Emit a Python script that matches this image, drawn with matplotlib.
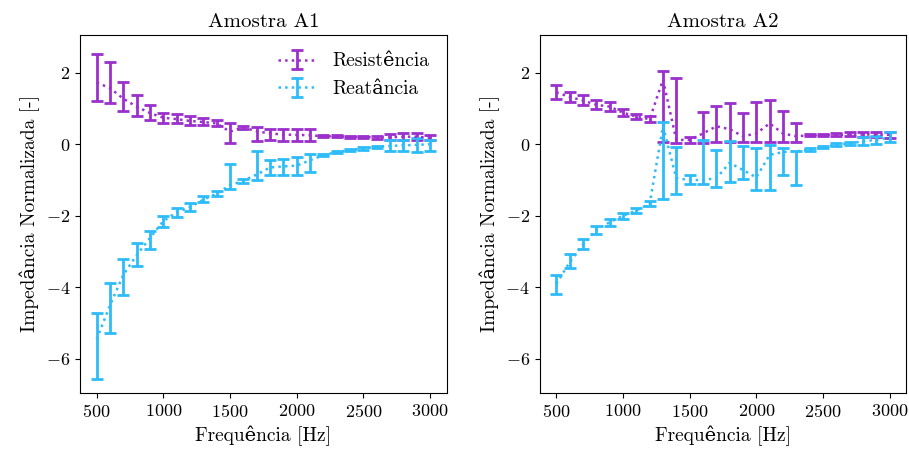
import matplotlib
matplotlib.use('Agg')
import matplotlib.pyplot as plt
import numpy as np

#-------------------------------------------
#              Dados
#-------------------------------------------
freq = np.array([500, 600, 700, 800, 900, 1000, 1100, 1200, 1300, 1400, 1500, 1600, 1700,
                 1800, 1900, 2000, 2100, 2200, 2300, 2400, 2500, 2600, 2700, 2800, 2900, 3000])

# Amostra A1 - resistencia
a1_res = np.array([1.72, 1.57, 1.27, 1.05, 0.87, 0.74, 0.70, 0.65, 0.62, 0.58, 0.35, 0.47, 0.36,
                   0.30, 0.27, 0.26, 0.25, 0.22, 0.22, 0.21, 0.20, 0.19, 0.19, 0.21, 0.21, 0.18])
a1_res_min = np.array([1.20, 1.16, 0.93, 0.79, 0.67, 0.60, 0.60, 0.55, 0.53, 0.50, 0.02, 0.42, 0.10,
                       0.13, 0.08, 0.08, 0.08, 0.19, 0.19, 0.18, 0.17, 0.15, 0.11, 0.11, 0.11, 0.11])
a1_res_max = np.array([2.52, 2.30, 1.74, 1.37, 1.09, 0.88, 0.84, 0.78, 0.72, 0.68, 0.58, 0.52, 0.48,
                       0.42, 0.43, 0.43, 0.42, 0.25, 0.25, 0.24, 0.23, 0.23, 0.28, 0.32, 0.32, 0.26])

# Amostra A1 - reatancia
a1_rea = np.array([-5.45, -4.50, -3.65, -3.10, -2.62, -2.15, -1.90, -1.76, -1.55, -1.38, -1.15, -1.02, -0.85,
                   -0.65, -0.62, -0.60, -0.45, -0.31, -0.22, -0.17, -0.12, -0.07, -0.05, -0.03, -0.02, 0.00])
a1_rea_min = np.array([-6.57, -5.27, -4.20, -3.40, -2.92, -2.30, -2.03, -1.86, -1.62, -1.44, -1.24, -1.08, -0.99,
                       -0.87, -0.85, -0.87, -0.78, -0.34, -0.25, -0.20, -0.15, -0.10, -0.20, -0.20, -0.21, -0.18])
a1_rea_max = np.array([-4.71, -3.87, -3.22, -2.75, -2.42, -2.00, -1.77, -1.63, -1.45, -1.31, -0.54, -0.96, -0.20,
                       -0.45, -0.42, -0.37, -0.27, -0.28, -0.19, -0.14, -0.09, -0.04, 0.11, 0.12, 0.16, 0.12])

# Amostra A2 - resistencia
a2_res = np.array([1.45, 1.32, 1.22, 1.10, 1.05, 0.88, 0.77, 0.70, 1.80, 0.12, 0.12, 0.30, 0.50,
                   0.42, 0.22, 0.30, 0.58, 0.30, 0.22, 0.25, 0.25, 0.26, 0.27, 0.27, 0.27, 0.26])
a2_res_min = np.array([1.26, 1.17, 1.09, 0.98, 0.92, 0.78, 0.70, 0.62, 0.06, 0.04, 0.04, 0.04, 0.05,
                       0.05, 0.05, 0.05, 0.05, 0.05, 0.05, 0.22, 0.22, 0.22, 0.22, 0.20, 0.20, 0.17])
a2_res_max = np.array([1.65, 1.46, 1.37, 1.23, 1.17, 0.98, 0.84, 0.78, 2.05, 1.85, 0.20, 0.90, 1.07,
                       1.14, 0.86, 1.17, 1.23, 0.93, 0.58, 0.28, 0.28, 0.30, 0.33, 0.34, 0.34, 0.34])

# Amostra A2 - reatancia
a2_rea = np.array([-3.90, -3.30, -2.80, -2.40, -2.18, -2.00, -1.85, -1.66, 0.50, -0.95, -1.00, -1.00, -0.95,
                   -0.52, -0.72, -0.93, -0.30, -0.22, -0.20, -0.15, -0.09, -0.01, 0.02, 0.08, 0.12, 0.18])
a2_rea_min = np.array([-4.18, -3.45, -2.94, -2.52, -2.29, -2.08, -1.92, -1.73, -1.54, -1.38, -1.10, -1.10, -1.19,
                       -1.05, -0.96, -1.27, -1.27, -0.87, -1.15, -0.18, -0.12, -0.04, -0.03, -0.01, 0.00, 0.06])
a2_rea_max = np.array([-3.66, -3.08, -2.64, -2.29, -2.08, -1.91, -1.77, -1.59, 0.62, -0.09, -0.87, 0.11, -0.17,
                       0.09, -0.06, -0.12, -0.03, -0.12, -0.18, -0.12, -0.06, 0.02, 0.06, 0.20, 0.22, 0.34])

PURPLE = '#9b30cc'
BLUE = '#2ebcf8'

plt.rcParams['font.family'] = ['cmr10', 'DejaVu Serif']
plt.rcParams['mathtext.fontset'] = 'cm'
plt.rcParams['axes.formatter.use_mathtext'] = True
plt.rcParams['axes.unicode_minus'] = True


def plot_amostra(ax, title, res, res_min, res_max, rea, rea_min, rea_max, legend=False):
    ax.errorbar(freq, res, yerr=[res - res_min, res_max - res], fmt=':', color=PURPLE,
                lw=1.8, elinewidth=2, capsize=4, capthick=2, label='Resistência')
    ax.errorbar(freq, rea, yerr=[rea - rea_min, rea_max - rea], fmt=':', color=BLUE,
                lw=1.8, elinewidth=2, capsize=4, capthick=2, label='Reatância')
    ax.set_title(title, fontsize=15)
    ax.set_xlabel('Frequência [Hz]', fontsize=14)
    ax.set_ylabel('Impedância Normalizada [-]', fontsize=14)
    ax.set_xticks([500, 1000, 1500, 2000, 2500, 3000])
    ax.set_yticks([-6, -4, -2, 0, 2])
    ax.set_ylim(-6.95, 3.05)
    ax.tick_params(labelsize=13)
    if legend:
        ax.legend(loc='upper right', frameon=False, fontsize=14)


fig, (ax1, ax2) = plt.subplots(1, 2, figsize=(9.09, 4.53), dpi=100)
fig.subplots_adjust(left=0.088, right=0.997, bottom=0.1325, top=0.9227, wspace=0.254)

plot_amostra(ax1, 'Amostra A1', a1_res, a1_res_min, a1_res_max, a1_rea, a1_rea_min, a1_rea_max, legend=True)
plot_amostra(ax2, 'Amostra A2', a2_res, a2_res_min, a2_res_max, a2_rea, a2_rea_min, a2_rea_max)

fig.savefig('out.png', dpi=100)
